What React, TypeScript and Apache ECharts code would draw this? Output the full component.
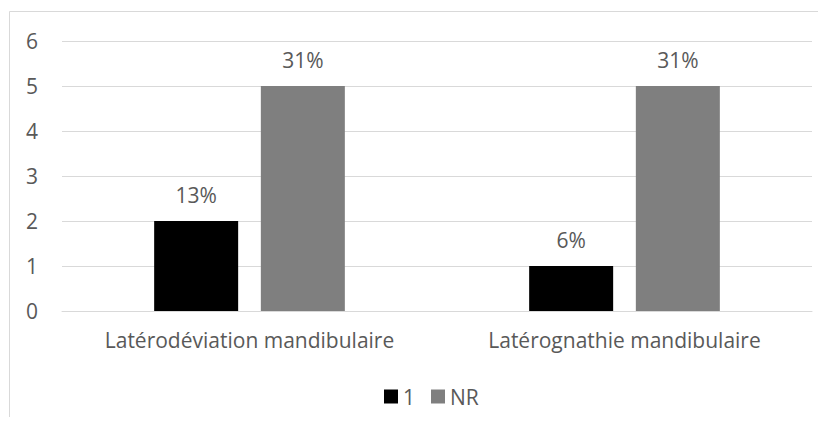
import React, { useEffect, useRef } from "react";
import * as echarts from "echarts";

const categories = ["Latérodéviation mandibulaire", "Latérognathie mandibulaire"];
const seriesNames = ["1", "NR"];
const valuesOne = [2, 1];
const valuesNR = [5, 5];
const labelsOne = ["13%", "6%"];
const labelsNR = ["31%", "31%"];
const yTicks = { min: 0, max: 6, interval: 1 };

const FONT = "Open Sans";
const TEXT = "#595959";
const FS = 21;

export default function App() {
  const ref = useRef<HTMLDivElement>(null);
  useEffect(() => {
    if (!ref.current) return;
    const chart = echarts.init(ref.current, undefined, { renderer: "svg" });
    const mkLabel = (labels: string[]) => ({
      show: true,
      position: "top" as const,
      distance: 16,
      color: TEXT,
      fontFamily: FONT,
      fontSize: FS,
      formatter: (p: any) => labels[p.dataIndex],
    });
    chart.setOption({
      animation: false,
      backgroundColor: "#ffffff",
      textStyle: { fontFamily: FONT },
      graphic: [
        { type: "line", shape: { x1: 1.5, y1: 3.5, x2: 2000, y2: 3.5 }, style: { stroke: "#d9d9d9", lineWidth: 1 } },
        { type: "line", shape: { x1: 1.5, y1: 3.5, x2: 1.5, y2: 2000 }, style: { stroke: "#d9d9d9", lineWidth: 1 } },
      ],
      grid: { left: 54, right: 6, top: 33, bottom: 106 },
      legend: {
        data: seriesNames,
        top: 373,
        left: 371,
        itemWidth: 14,
        itemHeight: 14,
        itemGap: 16,
        icon: "rect",
        textStyle: { color: TEXT, fontFamily: FONT, fontSize: FS },
      },
      xAxis: {
        type: "category",
        data: categories,
        axisLine: { show: true, lineStyle: { color: "#d9d9d9" } },
        axisTick: { show: false },
        axisLabel: { color: TEXT, fontFamily: FONT, fontSize: FS, margin: 18, interval: 0 },
      },
      yAxis: {
        type: "value",
        min: yTicks.min,
        max: yTicks.max,
        interval: yTicks.interval,
        axisLine: { show: false },
        axisTick: { show: false },
        splitLine: { lineStyle: { color: "#d9d9d9" } },
        axisLabel: { color: TEXT, fontFamily: FONT, fontSize: FS, margin: 24 },
      },
      series: [
        {
          name: seriesNames[0],
          type: "bar",
          data: valuesOne,
          barWidth: 84,
          barGap: "27%",
          itemStyle: { color: "#000000" },
          label: mkLabel(labelsOne),
        },
        {
          name: seriesNames[1],
          type: "bar",
          data: valuesNR,
          barWidth: 84,
          barGap: "27%",
          itemStyle: { color: "#7f7f7f" },
          label: mkLabel(labelsNR),
        },
      ],
    });
    return () => chart.dispose();
  }, []);
  return <div ref={ref} style={{ width: 810, height: 409 }} />;
}
